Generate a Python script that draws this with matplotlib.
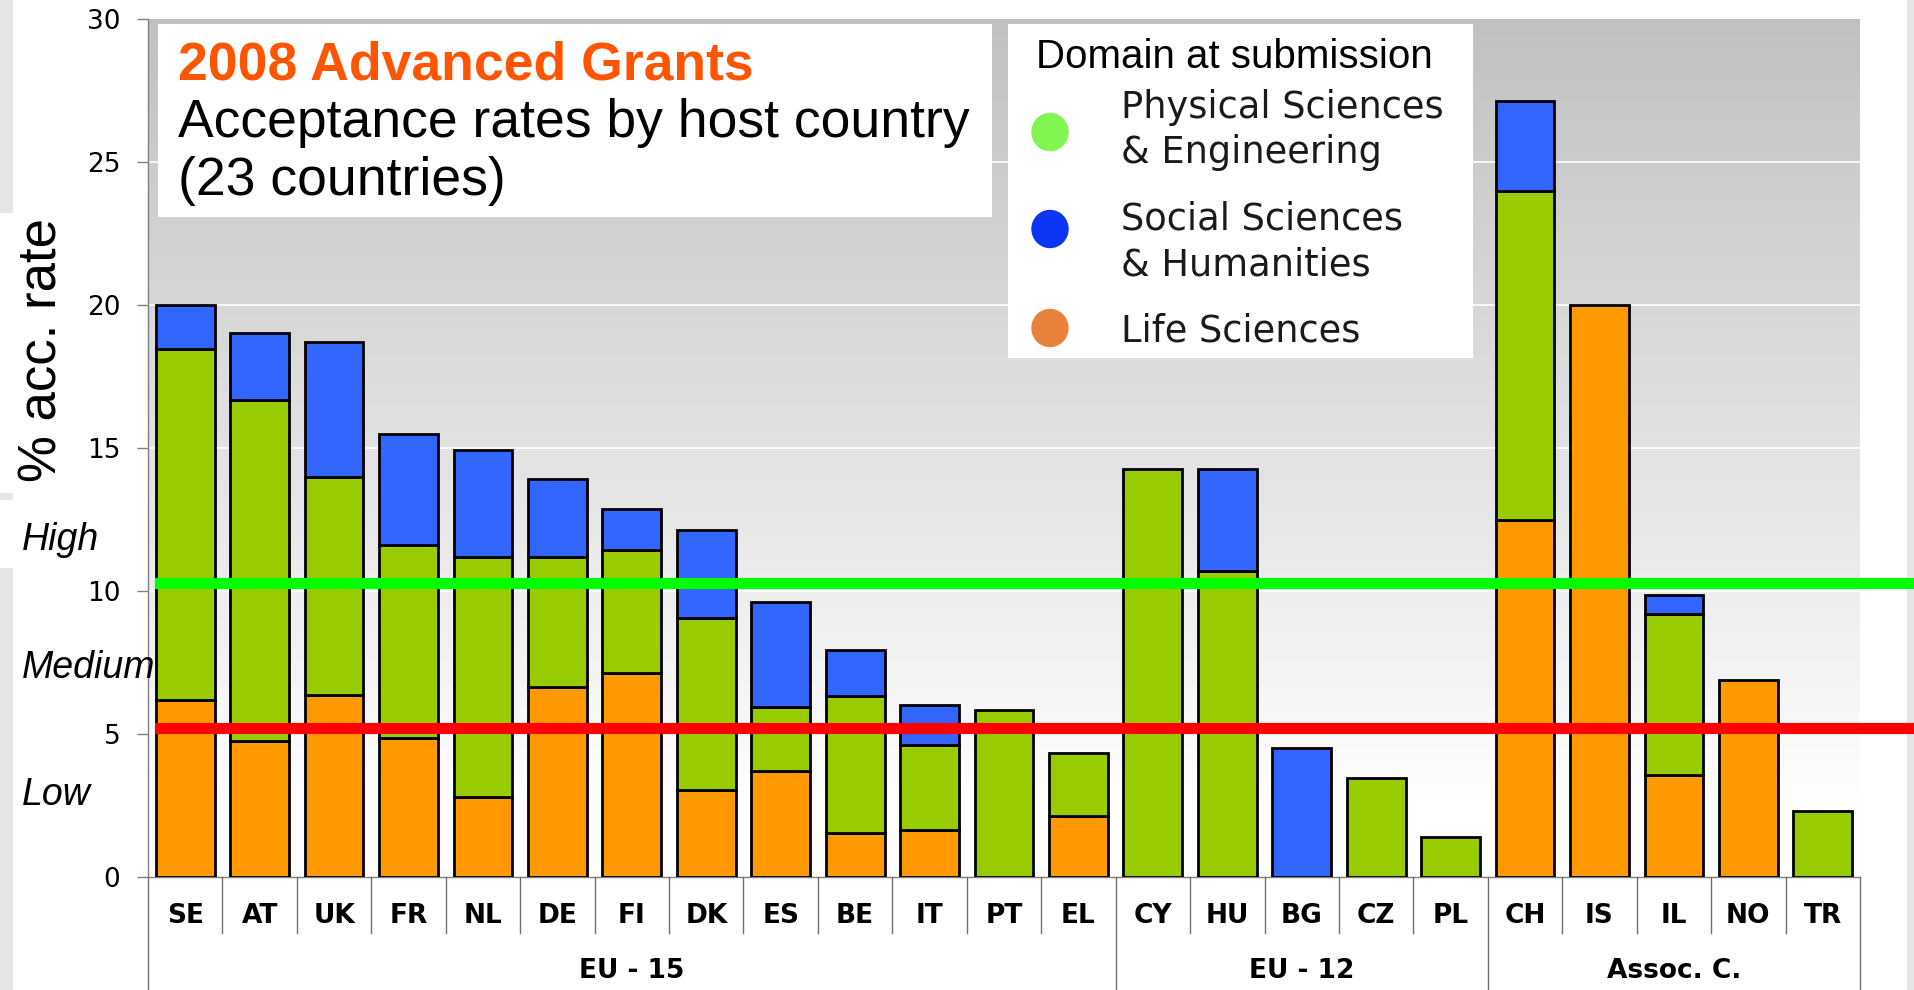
import matplotlib
matplotlib.use('Agg')
import matplotlib.pyplot as plt
import numpy as np
from matplotlib.patches import Rectangle, Ellipse
from matplotlib.lines import Line2D
from matplotlib.transforms import blended_transform_factory

plt.rcParams['font.family'] = ['Liberation Sans', 'DejaVu Sans']

countries = ['SE', 'AT', 'UK', 'FR', 'NL', 'DE', 'FI', 'DK', 'ES', 'BE', 'IT', 'PT', 'EL',
             'CY', 'HU', 'BG', 'CZ', 'PL',
             'CH', 'IS', 'IL', 'NO', 'TR']
groups = ['EU - 15', 'EU - 12', 'Assoc. C.']
group_sizes = [13, 5, 5]

# acceptance rate (%) per domain, stacked: life at bottom, then physical, then social
life = [6.2, 4.75, 6.35, 4.85, 2.8, 6.65, 7.15, 3.05, 3.7, 1.55, 1.65, 0, 2.15,
        0, 0, 0, 0, 0,
        12.5, 20.0, 3.55, 6.9, 0]
phys = [12.25, 11.92, 7.65, 6.75, 8.4, 4.55, 4.3, 6.02, 2.23, 4.78, 2.95, 5.85, 2.2,
        14.25, 10.7, 0, 3.45, 1.4,
        11.5, 0, 5.65, 0, 2.3]
social = [1.55, 2.35, 4.7, 3.9, 3.72, 2.73, 1.41, 3.05, 3.7, 1.59, 1.4, 0, 0,
          0, 3.56, 4.52, 0, 0,
          3.15, 0, 0.67, 0, 0]

high_threshold = 10.28
low_threshold = 5.21

W, H = 1915, 990
fig = plt.figure(figsize=(W / 100, H / 100), dpi=100)


def fx(px):
    return px / W


def fy(py):
    return 1 - py / H


# light side strips of the slide
for x0, y0, x1, y1 in [(0, 0, 13, 213), (0, 493, 13, 500), (0, 568, 13, 990), (1907, 0, 1915, 990)]:
    fig.add_artist(Rectangle((fx(x0), fy(y1)), fx(x1) - fx(x0), fy(y0) - fy(y1),
                             transform=fig.transFigure, color='#e6e6e6', lw=0, zorder=0))
# white box behind the y label
fig.add_artist(Rectangle((fx(2), fy(493)), fx(140), fy(213) - fy(493),
                         transform=fig.transFigure, color='white', lw=0, zorder=0.5))

ax = fig.add_axes([fx(148), fy(877), fx(1860) - fx(148), fy(19) - fy(877)])
ax.set_zorder(1)
ax.set_xlim(-0.5, len(countries) - 0.5)
ax.set_ylim(0, 30)

grad = np.linspace(192, 253, 256).reshape(-1, 1) / 255
ax.imshow(grad, cmap='gray', vmin=0, vmax=1, extent=[-0.5, len(countries) - 0.5, 2.7, 30],
          aspect='auto', origin='upper', zorder=0)
for v in range(5, 30, 5):
    ax.axhline(v, color='white', lw=1.2, zorder=1)

x = np.arange(len(countries))
life_a, phys_a, social_a = np.array(life), np.array(phys), np.array(social)
stack = [(life_a, np.zeros_like(life_a), '#ff9900'),
         (phys_a, life_a, '#99cc00'),
         (social_a, life_a + phys_a, '#3366ff')]
for vals, bottom, color in stack:
    m = vals > 0
    ax.bar(x[m], vals[m], bottom=bottom[m], width=0.79, color=color,
           edgecolor='black', linewidth=2, zorder=3)

xmin = 12 / 1712
xmax = (W - 148) / 1712
ax.axhline(high_threshold, xmin=xmin, xmax=xmax, color='#00ff00', lw=8, clip_on=False, zorder=5)
ax.axhline(low_threshold, xmin=xmin, xmax=xmax, color='#ff0000', lw=8, clip_on=False, zorder=5)

for s in ['top', 'right']:
    ax.spines[s].set_visible(False)
for s in ['left', 'bottom']:
    ax.spines[s].set_color('#808080')
    ax.spines[s].set_linewidth(1)
ax.set_yticks(range(0, 31, 5))
ax.set_xticks([])
ax.tick_params(axis='y', length=8, width=1, color='#808080', labelsize=19, pad=12)
for lab in ax.get_yticklabels():
    lab.set_family('DejaVu Sans')

# category axis below the plot
tr = blended_transform_factory(ax.transData, fig.transFigure)
for i, c in enumerate(countries):
    ax.text(i, fy(923), c, transform=tr, ha='center', va='baseline',
            fontsize=19, fontweight='bold', family='DejaVu Sans')
bounds = np.cumsum([0] + group_sizes)
for k in range(len(countries) + 1):
    y_end = 990 if k in bounds else 933
    fig.add_artist(Line2D([k - 0.5, k - 0.5], [fy(877), fy(y_end)], transform=tr,
                          color='#707070', lw=1, zorder=2))
group_pos = [6, 15, 20]
for g, p in zip(groups, group_pos):
    ax.text(p, fy(978), g, transform=tr, ha='center', va='baseline',
            fontsize=19, fontweight='bold', family='DejaVu Sans')

# y label and level labels
fig.text(fx(43), fy(350), '% acc. rate', rotation=90, fontsize=38, ha='center', va='center',
         zorder=2)
fig.text(fx(22), fy(550), 'High', fontsize=27, style='italic', va='baseline', zorder=2)
fig.text(fx(22), fy(678), 'Medium', fontsize=27, style='italic', va='baseline', zorder=2)
fig.text(fx(22), fy(805), 'Low', fontsize=27, style='italic', va='baseline', zorder=2)

# title box
fig.add_artist(Rectangle((fx(158), fy(217)), fx(992) - fx(158), fy(24) - fy(217),
                         transform=fig.transFigure, color='white', lw=0, zorder=6))
fig.text(fx(178), fy(80), '2008 Advanced Grants', fontsize=38.5, fontweight='bold',
         color='#ff5500', va='baseline', zorder=7)
fig.text(fx(178), fy(137), 'Acceptance rates by host country', fontsize=38.5,
         va='baseline', zorder=7)
fig.text(fx(178), fy(195), '(23 countries)', fontsize=38.5, va='baseline', zorder=7)

# legend box
fig.add_artist(Rectangle((fx(1008), fy(358)), fx(1473) - fx(1008), fy(24) - fy(358),
                         transform=fig.transFigure, color='white', lw=0, zorder=6))
fig.text(fx(1036), fy(68), 'Domain at submission', fontsize=29, va='baseline', zorder=7)
legend_items = [('#80f550', 132, ['Physical Sciences', '& Engineering'], [118, 163]),
                ('#0a35f5', 229, ['Social Sciences', '& Humanities'], [230, 275]),
                ('#e8823a', 328, ['Life Sciences'], [342])]
for col, cy, lines, bases in legend_items:
    fig.add_artist(Ellipse((fx(1050), fy(cy)), 36 / W, 37 / H, transform=fig.transFigure,
                           color=col, zorder=7))
    for t, b in zip(lines, bases):
        fig.text(fx(1121), fy(b), t, fontsize=26.5, family='DejaVu Sans', color='#1a1a1a',
                 va='baseline', zorder=7)

fig.savefig('out.png', dpi=100)
